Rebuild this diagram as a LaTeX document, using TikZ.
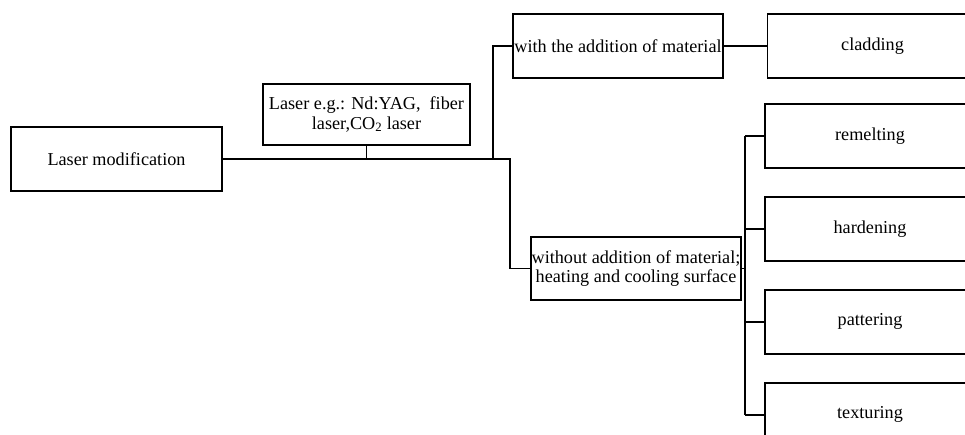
\documentclass[tikz,border=0pt]{standalone}
\usepackage{fontspec}
\setmainfont{Liberation Serif}
\usetikzlibrary{positioning,calc}

\begin{document}
\begin{tikzpicture}[x=1pt,y=-1pt,line width=1.9pt,align=center,node distance=27pt,
	font=\fontsize{18.2}{19.5}\selectfont,
	box/.style={draw=black,rectangle,inner sep=1pt,minimum height=64pt,minimum width=210pt}]
\clip (0,0) rectangle (965,434);

%% Root
\node (Mod) [box,minimum width=211pt] at (116.5,159) {Laser modification};

%% Laser sources
\node (Laser) [box,minimum width=207pt,minimum height=61pt] at (366.5,114.5)
				{Laser e.g.: Nd:YAG,\ \ fiber\\ laser,CO\textsubscript{2} laser};

%% Two ways
\node (With) [box,minimum width=208pt] at (618,46) {with the addition of material};
\node (Without) [box,minimum height=63pt] at (636,268.5)
				{without addition of material;\\ heating and cooling surface};

%% Processes
\node (Clad) [box,right=43pt of With] {cladding};
\node (Remelt) [box] at (870,136) {remelting};
\node (Harden) [box,below=of Remelt] {hardening};
\node (Pattern) [box,below=of Harden] {pattering};
\node (Texture) [box,below=of Pattern] {texturing};

\coordinate (jA) at (493,159);
\coordinate (jB) at (510,159);
\coordinate (jC) at (745,268.5);

\draw (Mod.east) -- (jB) |- (Without.west);
\draw (Laser.south) -- (Laser.south |- Mod.east);
\draw (jA) |- (With.west);
\draw (With) -- (Clad);

\draw (Without.east) -- (jC);
\draw (jC |- Remelt.west) -- (jC |- Texture.west);
\foreach \n in {Remelt,Harden,Pattern,Texture}
	\draw (jC |- \n.west) -- (\n.west);
\end{tikzpicture}
\end{document}
